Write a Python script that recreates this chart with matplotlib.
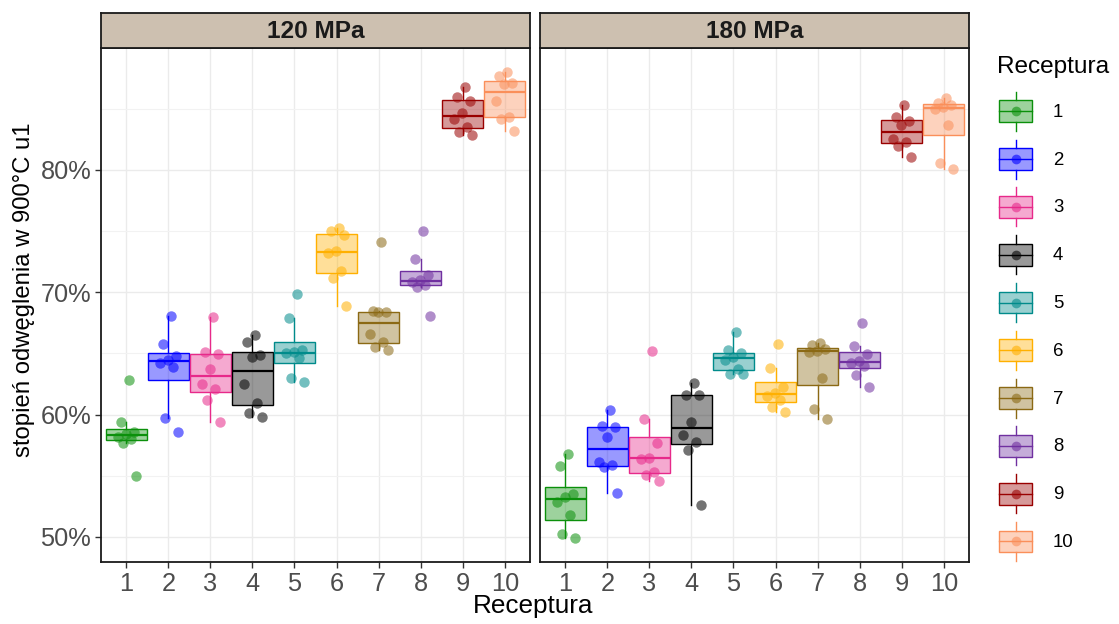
import matplotlib
matplotlib.use("Agg")
import matplotlib.pyplot as plt
import numpy as np
from matplotlib.colors import to_rgba
from matplotlib.legend_handler import HandlerBase
from matplotlib.patches import Rectangle, Patch
from matplotlib.lines import Line2D
from matplotlib.ticker import FuncFormatter, FixedLocator

plt.rcParams['font.family'] = ['Liberation Sans', 'DejaVu Sans']

# --- data (stopień odwęglenia, %) ---
receptury = ['1', '2', '3', '4', '5', '6', '7', '8', '9', '10']
cisnienia = ['120 MPa', '180 MPa']

wyniki_120 = [
    [62.8, 59.4, 58.6, 58.4, 58.2, 58.0, 57.7, 55.0],
    [68.1, 65.75, 64.8, 64.5, 64.2, 63.9, 59.75, 58.6],
    [67.96, 65.1, 64.95, 63.75, 62.5, 62.07, 61.2, 59.4],
    [66.5, 65.96, 64.87, 64.7, 62.5, 60.97, 60.15, 59.8],
    [69.9, 67.87, 65.3, 65.1, 65.0, 64.6, 62.97, 62.64],
    [75.23, 75.0, 74.7, 73.35, 73.2, 71.7, 71.15, 68.9],
    [74.14, 68.45, 68.4, 68.35, 66.56, 65.96, 65.55, 65.3],
    [75.0, 72.72, 71.4, 71.0, 70.8, 70.6, 70.46, 68.1],
    [86.8, 86.0, 85.64, 84.65, 84.2, 83.49, 83.13, 82.86],
    [88.04, 87.69, 87.09, 87.0, 85.67, 84.36, 84.2, 83.19],
]

wyniki_180 = [
    [56.78, 55.82, 53.5, 53.3, 52.88, 51.8, 50.2, 49.9],
    [60.38, 59.09, 59.0, 58.2, 56.15, 55.85, 55.7, 53.57],
    [65.2, 59.64, 57.65, 56.46, 56.4, 55.33, 55.06, 54.57],
    [62.56, 61.6, 61.6, 59.43, 58.33, 57.78, 57.1, 52.6],
    [66.73, 65.28, 65.0, 64.7, 64.5, 63.73, 63.35, 63.3],
    [65.75, 63.8, 62.25, 61.8, 61.55, 61.2, 60.65, 60.24],
    [65.83, 65.7, 65.35, 65.24, 65.14, 63.03, 60.47, 59.6],
    [67.46, 65.64, 64.96, 64.35, 64.2, 64.0, 63.24, 62.25],
    [85.27, 84.36, 84.03, 83.68, 82.51, 82.3, 81.99, 81.04],
    [85.92, 85.45, 85.35, 85.15, 84.98, 83.65, 80.6, 80.08],
]

kolory = ['#0b900b', '#0000ff', '#e7298a', '#000000', '#008b8b',
          '#ffb000', '#8b6914', '#7030a0', '#990000', '#fa8f5a']

y_ticks = [50, 60, 70, 80]
y_minor = [55, 65, 75, 85]


class BoxKey(HandlerBase):
    """legend key drawn like a small ggplot boxplot with a point"""
    def create_artists(self, legend, orig_handle, xdescent, ydescent,
                       width, height, fontsize, trans):
        c = orig_handle.get_edgecolor()
        x0, y0 = -xdescent, -ydescent
        bw = width * 0.9
        bx = x0 + (width - bw) / 2
        bh = height * 0.56
        by = y0 + (height - bh) / 2
        xm = x0 + width / 2
        ym = y0 + height / 2
        box = Rectangle((bx, by), bw, bh, facecolor=to_rgba(c, 0.4),
                        edgecolor=c, lw=1.0, transform=trans)
        med = Line2D([bx, bx + bw], [ym, ym], color=c, lw=1.0, transform=trans)
        w1 = Line2D([xm, xm], [by + bh, y0 + height], color=c, lw=1.0, transform=trans)
        w2 = Line2D([xm, xm], [y0, by], color=c, lw=1.0, transform=trans)
        dot = Line2D([xm], [ym], marker='o', ms=7, color=c, alpha=0.6,
                     mew=0, transform=trans)
        return [box, med, w1, w2, dot]


def jitter(n):
    # deterministic spread of points around the category centre
    return ((np.arange(1, n + 1) * 0.618034) % 1 - 0.5) * 0.5


fig = plt.figure(figsize=(11.19, 6.24), dpi=100)

W, H = 1119, 624
lefts = [101, 540]
pw = 429
top, bottom = 48, 562
strip_top = 13

pozycje = np.arange(1, len(receptury) + 1)

for k, (cis, wyniki) in enumerate(zip(cisnienia, [wyniki_120, wyniki_180])):
    ax = fig.add_axes([lefts[k] / W, 1 - bottom / H, pw / W, (bottom - top) / H])
    bp = ax.boxplot(wyniki, positions=pozycje, widths=0.98, patch_artist=True,
                    showfliers=False, showcaps=False, whis=1.5, zorder=2)
    for i, c in enumerate(kolory):
        bp['boxes'][i].set_facecolor(to_rgba(c, 0.4))
        bp['boxes'][i].set_edgecolor(c)
        bp['boxes'][i].set_linewidth(1.0)
        bp['medians'][i].set_color(c)
        bp['medians'][i].set_linewidth(1.6)
        for w in bp['whiskers'][2 * i:2 * i + 2]:
            w.set_color(c)
            w.set_linewidth(1.0)
    for i, (vals, c) in enumerate(zip(wyniki, kolory)):
        ax.plot(pozycje[i] + jitter(len(vals)), vals, 'o', ms=7.5, color=c,
                alpha=0.55, mew=0, zorder=3)

    ax.set_xlim(0.4, 10.6)
    ax.set_ylim(47.95, 89.97)
    ax.set_xticks(pozycje)
    ax.set_xticklabels(receptury)
    ax.yaxis.set_major_locator(FixedLocator(y_ticks))
    ax.yaxis.set_minor_locator(FixedLocator(y_minor))
    ax.yaxis.set_major_formatter(FuncFormatter(lambda v, p: f'{v:.0f}%'))
    ax.grid(True, which='major', color='#ebebeb', lw=1.0, zorder=0)
    ax.grid(True, which='minor', axis='y', color='#f2f2f2', lw=0.8, zorder=0)
    ax.set_axisbelow(True)
    for s in ax.spines.values():
        s.set_color('#1a1a1a')
        s.set_linewidth(1.3)
    ax.tick_params(axis='both', which='major', length=4, width=1.0,
                   color='#333333', labelcolor='#4d4d4d', labelsize=18.3, pad=3)
    ax.tick_params(axis='y', which='minor', length=0)
    if k == 1:
        ax.tick_params(axis='y', which='both', left=False, labelleft=False)

    # facet strip
    sax = fig.add_axes([lefts[k] / W, 1 - top / H, pw / W, (top - strip_top) / H])
    sax.set_facecolor('#cdc0b0')
    sax.set_xticks([])
    sax.set_yticks([])
    for s in sax.spines.values():
        s.set_color('#1a1a1a')
        s.set_linewidth(1.3)
    sax.text(0.5, 0.47, cis, ha='center', va='center', fontsize=17.6,
             fontweight='bold', color='#1a1a1a', transform=sax.transAxes)

fig.text(533 / W, 1 - 606 / H, 'Receptura', ha='center', va='center', fontsize=18.8)
fig.text(24 / W, 1 - 290 / H, 'stopień odwęglenia w 900°C u1', ha='center',
         va='center', rotation=90, fontsize=17.2)

uchwyty = [Patch(edgecolor=c, facecolor=c) for c in kolory]
leg = fig.legend(uchwyty, receptury, handler_map={Patch: BoxKey()},
                 loc='upper left', bbox_to_anchor=(997 / W, 1 - 56 / H),
                 frameon=False, title='Receptura', title_fontsize=17.6,
                 fontsize=13.4, handlelength=2.0, handleheight=2.85,
                 labelspacing=0.47, handletextpad=1.0, borderpad=0,
                 borderaxespad=0, alignment='left')
leg._legend_box.sep = 10

fig.savefig('out.png', dpi=100)
